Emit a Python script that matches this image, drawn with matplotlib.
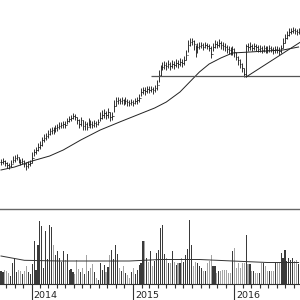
import matplotlib
matplotlib.use('Agg')
import matplotlib.pyplot as plt
import matplotlib.dates as mdates
import numpy as np
import pandas as pd

# ---- data (weekly bars) ----
close = [48,49,47,45,44,46,50,52,53,50,
         48,49,46,44,46,47,52,58,60,63,
         65,70,72,74,76,79,80,79,82,83,
         84,85,86,85,89,91,92,94,93,90,
         86,90,84,86,83,88,86,85,87,86,
         88,92,95,97,95,98,93,94,104,109,
         110,109,110,108,109,108,107,108,107,109,
         110,112,118,120,119,121,120,121,120,122,
         125,135,140,143,145,144,146,144,146,145,
         147,146,148,147,150,155,165,168,169,166,
         158,163,164,165,163,165,164,162,156,163,
         166,165,167,165,164,163,161,160,159,161,
         158,153,150,146,142,136,164,163,164,162,
         164,163,161,162,160,162,161,160,162,161,
         160,161,160,159,162,167,172,175,178,179,
         180,179,178,179]
high = [51,52,50,48,47,50,54,55,56,53,
        51,52,50,48,49,50,58,61,63,67,
        69,73,76,77,80,82,83,83,85,86,
        88,88,89,89,92,94,95,97,96,93,
        91,93,90,89,88,92,90,89,90,89,
        91,98,100,101,99,102,98,98,110,113,
        113,112,113,111,113,111,110,111,110,112,
        113,116,122,123,123,124,124,124,123,125,
        130,140,145,148,149,148,150,148,150,149,
        151,150,152,151,154,160,170,172,172,170,
        165,167,168,168,167,168,167,166,164,167,
        170,169,171,169,168,167,165,164,163,164,
        162,158,154,151,147,142,166,167,168,166,
        167,166,165,165,164,165,164,164,165,164,
        163,164,164,163,165,172,176,179,182,182,
        183,182,181,182]
low = [45,46,44,42,41,43,47,48,50,47,
       45,46,43,40,42,44,47,54,56,59,
       61,64,68,70,72,75,76,76,78,79,
       81,82,82,82,86,88,89,91,90,86,
       82,84,80,80,80,84,82,82,83,83,
       85,89,91,92,91,92,89,90,98,104,
       106,106,106,105,106,104,104,105,104,106,
       106,108,114,116,115,117,117,118,116,118,
       120,128,134,140,141,140,142,140,142,141,
       143,142,144,143,145,150,158,164,165,160,
       153,157,161,162,160,162,161,159,152,159,
       162,162,163,161,160,159,157,156,155,155,
       153,150,145,142,138,133,133,159,160,159,
       160,159,158,158,157,158,157,157,158,158,
       156,157,157,155,157,162,167,171,174,176,
       177,176,175,176]
volume = [13,12,14,13,11,8,21,26,12,14,
          13,10,13,18,12,10,20,43,14,39,
          63,58,16,53,25,59,57,39,29,33,
          26,22,33,24,30,14,15,12,10,24,
          15,12,16,10,29,13,16,20,12,6,
          4,21,14,19,12,17,29,34,25,39,
          30,16,13,18,11,9,6,12,16,10,
          14,19,21,43,43,26,22,33,18,23,
          31,34,56,59,30,26,21,21,33,22,
          19,21,21,26,22,29,35,64,39,18,
          22,21,18,16,13,13,21,23,29,18,
          18,11,13,13,14,14,14,11,11,33,
          36,16,21,16,21,21,49,20,20,13,
          13,11,11,11,21,21,18,13,13,13,
          13,21,21,21,31,26,34,23,26,24,
          26,23,24,20]

# moving average of price (read at selected bars)
ma_idx = [0, 7, 16, 25, 32, 41, 51, 61, 79, 85, 92, 100, 102, 107, 113, 119, 128, 145, 153]
ma_val = [40, 43, 49, 54, 60, 70, 80, 88, 102, 108, 118, 134, 138, 146, 152, 157, 158, 160, 163]

# moving average of volume
vma_idx = [0, 12, 30, 66, 82, 102, 119, 137, 153]
vma_val = [28, 23.7, 23, 23, 24.5, 24.5, 23, 21.5, 21.5]

# drawn lines
support_level = 134
support_start = 77
trend_start_idx, trend_start_val = 126, 133
trend_end_idx, trend_end_val = 154, 168

year_labels = ['2014', '2015', '2016']

# ---- figure ----
start = pd.Timestamp('2013-09-13')
dates = pd.date_range(start, periods=len(close), freq='7D')
xmin = start - pd.Timedelta(days=3.6)
xmax = start + pd.Timedelta(days=1076)

fig = plt.figure(figsize=(3, 3), dpi=100)
ax_p = fig.add_axes([0, 91/300, 1, 209/300])
ax_v = fig.add_axes([0, 16/300, 1, 75/300])

# price bars
opens = [close[0]] + close[:-1]
d3 = pd.Timedelta(days=2.5)
ax_p.vlines(dates, low, high, color='#111111', lw=0.6)
ax_p.hlines(close, dates, dates + d3, color='#111111', lw=0.6)
ax_p.hlines(opens, dates - d3, dates, color='#111111', lw=0.6)

ax_p.plot(dates[ma_idx], ma_val, color='#222222', lw=0.7)
ax_p.hlines(support_level, dates[support_start], xmax, color='#555555', lw=0.9)
t0 = start + pd.Timedelta(days=7*trend_start_idx)
t1 = start + pd.Timedelta(days=7*trend_end_idx)
ax_p.plot([t0, t1], [trend_start_val, trend_end_val], color='#222222', lw=0.7)

ax_p.set_xlim(xmin, xmax)
ax_p.set_ylim(1, 210)
ax_p.axis('off')

# volume
vcol = ['#3a3a3a' if (i == 0 or close[i] >= close[i-1]) else '#a4a4a4' for i in range(len(close))]
ax_v.bar(dates, volume, width=4.0, color=vcol, linewidth=0)
ax_v.plot(dates[vma_idx], vma_val, color='#333333', lw=0.7)
ax_v.set_xlim(xmin, xmax)
ax_v.set_ylim(0, 75)
ax_v.set_yticks([])
for s in ['left', 'right']:
    ax_v.spines[s].set_visible(False)
ax_v.spines['top'].set_color('#666666')
ax_v.spines['top'].set_linewidth(1.0)
ax_v.spines['bottom'].set_color('#333333')
ax_v.spines['bottom'].set_linewidth(0.8)

ax_v.xaxis.set_major_locator(mdates.YearLocator())
ax_v.xaxis.set_minor_locator(mdates.MonthLocator())
ax_v.tick_params(axis='x', which='major', length=11.5, width=0.8, color='#333333',
                 direction='out', labelbottom=False)
ax_v.tick_params(axis='x', which='minor', length=3, width=0.8, color='#333333',
                 direction='out')

for lbl in year_labels:
    ax_v.annotate(lbl, xy=(pd.Timestamp(lbl + '-01-01'), 0),
                  xycoords=('data', 'axes fraction'),
                  xytext=(2, -7), textcoords='offset pixels',
                  ha='left', va='top', fontsize=6.8, color='#222222',
                  family='DejaVu Sans')

fig.savefig('out.png', dpi=100)
